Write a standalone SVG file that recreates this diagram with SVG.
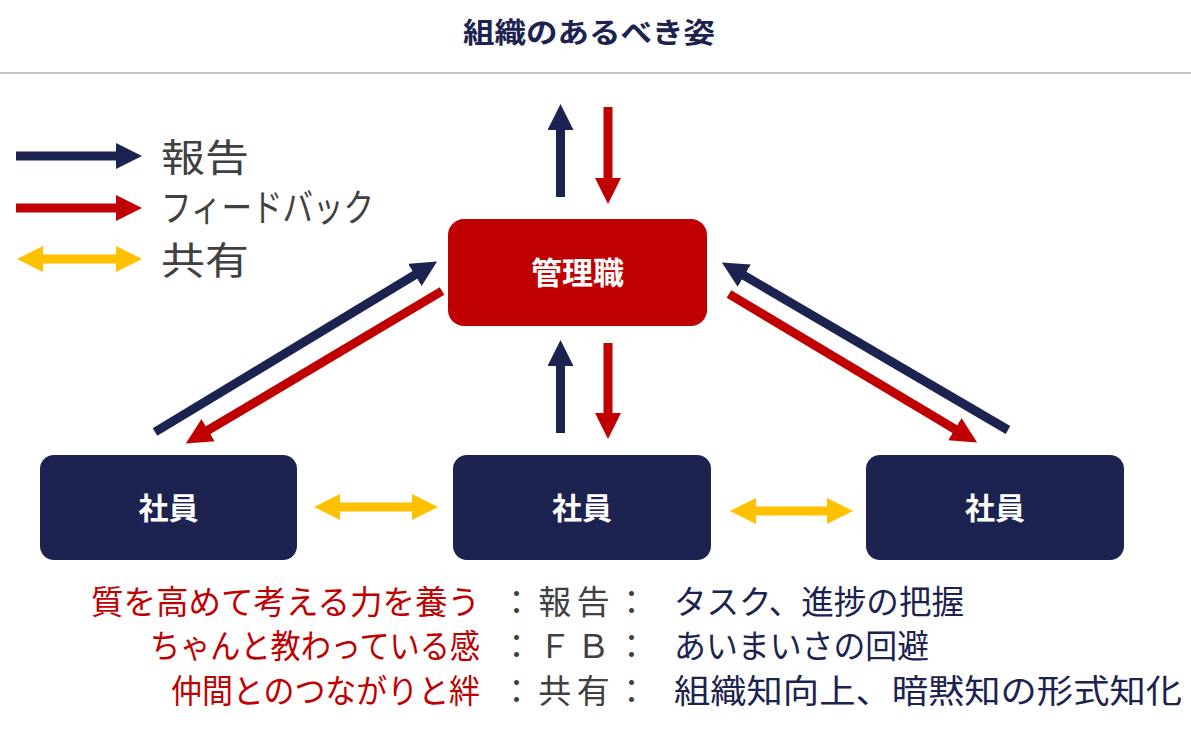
<svg xmlns="http://www.w3.org/2000/svg" width="1191" height="741" viewBox="0 0 1191 741">
<style>
text{font-family:"Noto Sans CJK JP","Noto Sans",sans-serif}
.title{font-size:28px;font-weight:bold;fill:#1C2350}
.node-text{font-size:30px;font-weight:bold;fill:#fff;text-anchor:middle}
.leg{font-size:38px;fill:#404040}
.red{font-size:33px;fill:#C00000}
.dark{font-size:33px;fill:#404040}
.navy-t{font-size:33px;fill:#1C2350}
.rep{stroke:#1C2350;stroke-width:9;fill:none;marker-end:url(#hb)}
.fb{stroke:#C00000;stroke-width:9;fill:none;marker-end:url(#hr)}
.sh{stroke:#FFC000;stroke-width:9;fill:none;marker-end:url(#hy);marker-start:url(#hy)}
</style>
<defs>
<marker id="hb" markerUnits="userSpaceOnUse" viewBox="0 0 26 26" markerWidth="26" markerHeight="26" refX="1" refY="13" orient="auto"><path d="M0,0 L26,13 L0,26 z" fill="#1C2350"/></marker>
<marker id="hr" markerUnits="userSpaceOnUse" viewBox="0 0 26 26" markerWidth="26" markerHeight="26" refX="1" refY="13" orient="auto"><path d="M0,0 L26,13 L0,26 z" fill="#C00000"/></marker>
<marker id="hy" markerUnits="userSpaceOnUse" viewBox="0 0 26 26" markerWidth="26" markerHeight="26" refX="1" refY="13" orient="auto-start-reverse"><path d="M0,0 L26,13 L0,26 z" fill="#FFC000"/></marker>
</defs>
<rect width="1191" height="741" fill="#fff"/>
<text class="title" x="463" y="43" textLength="252" lengthAdjust="spacingAndGlyphs">組織のあるべき姿</text>
<line x1="0" y1="73" x2="1191" y2="73" stroke="#B0B0B0" stroke-width="1.5"/>

<g id="legend">
<line class="rep" x1="16" y1="156" x2="117" y2="156"/>
<line class="fb" x1="16" y1="208" x2="117" y2="208"/>
<line class="sh" x1="42" y1="259" x2="117" y2="259"/>
<text class="leg" x="161" y="171" textLength="88" lengthAdjust="spacingAndGlyphs">報告</text>
<text class="leg" x="161" y="221" textLength="213" lengthAdjust="spacingAndGlyphs">フィードバック</text>
<text class="leg" x="161" y="274" textLength="88" lengthAdjust="spacingAndGlyphs">共有</text>
</g>

<g id="connectors">
<line class="rep" x1="560.5" y1="197" x2="560.5" y2="129"/>
<line class="fb" x1="608" y1="107" x2="608" y2="179"/>
<line class="rep" x1="560.5" y1="433" x2="560.5" y2="365"/>
<line class="fb" x1="608" y1="343" x2="608" y2="414"/>
<line class="rep" x1="155" y1="432" x2="415.7" y2="274.4"/>
<line class="fb" x1="442" y1="291" x2="207.3" y2="430.7"/>
<line class="rep" x1="1008" y1="430" x2="743.4" y2="275.1"/>
<line class="fb" x1="729" y1="294" x2="955.7" y2="429.7"/>
<line class="sh" x1="339" y1="507" x2="413" y2="507"/>
<line class="sh" x1="755" y1="511" x2="828" y2="511"/>
</g>

<g id="manager">
<rect x="448" y="219" width="259" height="107" rx="16" fill="#C00000"/>
<text class="node-text" x="577.5" y="284" style="font-size:31px">管理職</text>
</g>
<g id="staff-left">
<rect x="40" y="455" width="257" height="105" rx="14" fill="#1C2350"/>
<text class="node-text" x="168.5" y="519">社員</text>
</g>
<g id="staff-center">
<rect x="453" y="455" width="258" height="105" rx="14" fill="#1C2350"/>
<text class="node-text" x="582" y="519">社員</text>
</g>
<g id="staff-right">
<rect x="866" y="455" width="258" height="105" rx="14" fill="#1C2350"/>
<text class="node-text" x="995" y="519">社員</text>
</g>

<g id="notes">
<text class="red" x="91" y="614" textLength="389" lengthAdjust="spacingAndGlyphs">質を高めて考える力を養う</text>
<text class="red" x="150" y="658" textLength="330" lengthAdjust="spacingAndGlyphs">ちゃんと教わっている感</text>
<text class="red" x="171" y="703" textLength="309" lengthAdjust="spacingAndGlyphs">仲間とのつながりと絆</text>
<text class="dark" x="500" y="614" textLength="148" lengthAdjust="spacing">：報告：</text>
<text class="dark" x="500" y="658" textLength="148" lengthAdjust="spacing">：ＦＢ：</text>
<text class="dark" x="500" y="703" textLength="148" lengthAdjust="spacing">：共有：</text>
<text class="navy-t" x="674" y="614" textLength="290" lengthAdjust="spacingAndGlyphs">タスク、進捗の把握</text>
<text class="navy-t" x="674" y="658" textLength="255" lengthAdjust="spacingAndGlyphs">あいまいさの回避</text>
<text class="navy-t" x="674" y="703" textLength="508" lengthAdjust="spacingAndGlyphs">組織知向上、暗黙知の形式知化</text>
</g>
</svg>
